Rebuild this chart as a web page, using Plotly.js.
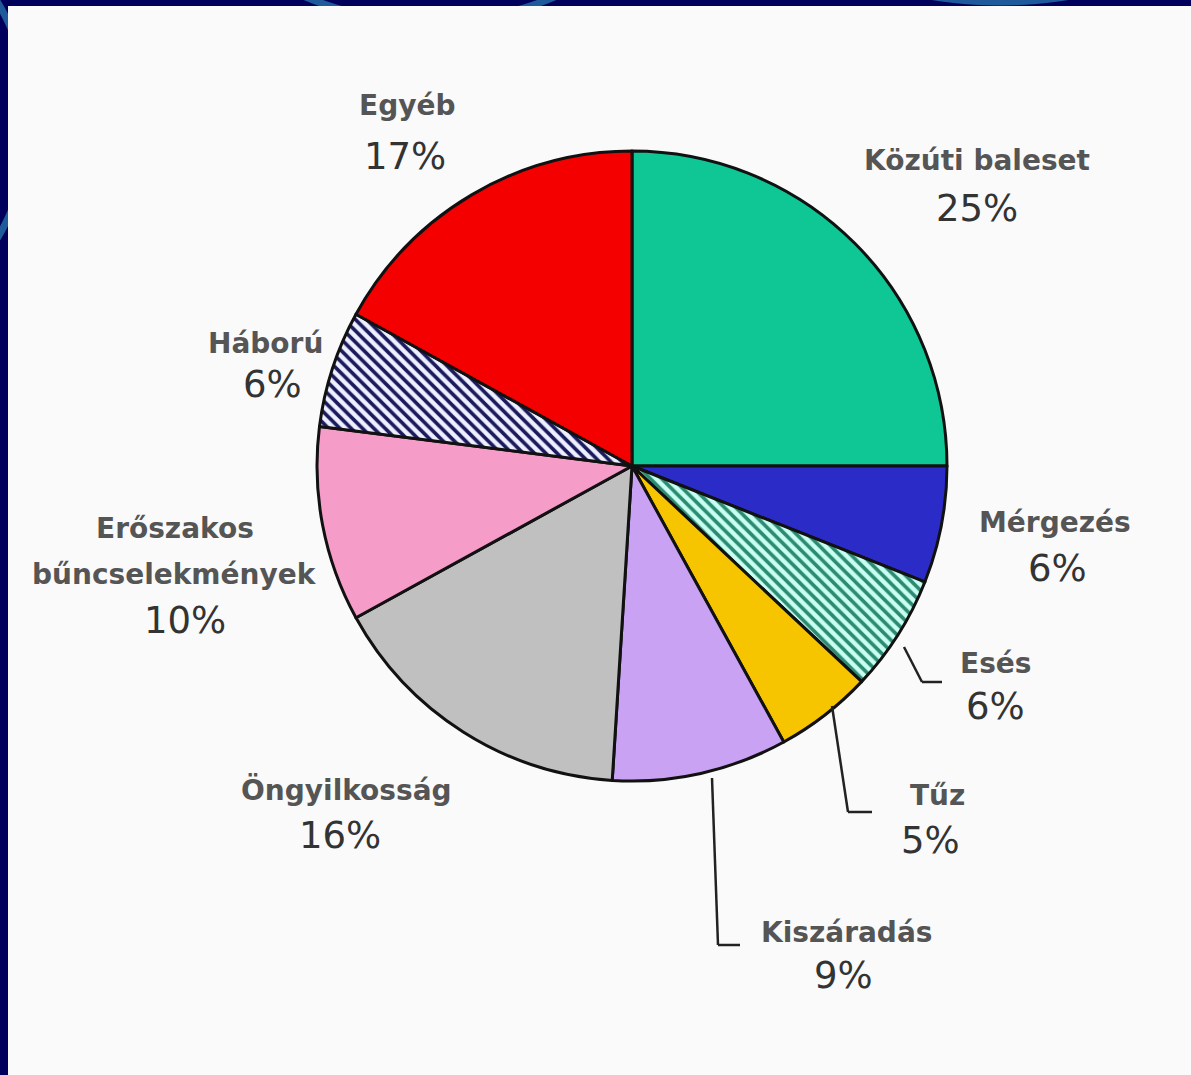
<!DOCTYPE html>
<html>
<head>
<meta charset="utf-8">
<script src="https://cdn.plot.ly/plotly-3.0.1.min.js"></script>
<style>
html,body{margin:0;padding:0;width:1191px;height:1075px;overflow:hidden;background:#00005c;}
#wrap{position:absolute;left:0;top:0;width:1191px;height:1075px;
 background:
  radial-gradient(circle at 430px -300px, transparent 318px, #1f5b9a 319px, #1f5b9a 325px, transparent 326px),
  radial-gradient(circle at 1000px -420px, transparent 418px, #1f5b9a 419px, #1f5b9a 425px, transparent 426px),
  radial-gradient(circle at -200px 120px, transparent 226px, #1f5b9a 227px, #1f5b9a 233px, transparent 234px),
  #00005c;}
#chart{position:absolute;left:8px;top:6px;width:1183px;height:1069px;}
</style>
</head>
<body>
<div id="wrap"></div>
<div id="chart"></div>
<script>
// ---- data ----
const categories = ["Közúti baleset","Mérgezés","Esés","Tűz","Kiszáradás","Öngyilkosság","Erőszakos bűncselekmények","Háború","Egyéb"];
const labelLines = [["Közúti baleset"],["Mérgezés"],["Esés"],["Tűz"],["Kiszáradás"],["Öngyilkosság"],["Erőszakos","bűncselekmények"],["Háború"],["Egyéb"]];
const values = [25, 6, 6, 5, 9, 16, 10, 6, 17];

// ---- styles ----
const fillColors = ["#0fc795","#2b2bc8","#c8fff2","#f6c500","#c9a2f4","#c0c0c0","#f59cc9","#eef0ff","#f40000"];
const patShapes  = ["","","\\","","","","","\\",""];
const patFg      = ["","","#2c8a70","","","","","#1a1a5c",""];

const W = 1183, H = 1069;
const px = x => x / W;
const py = y => 1 - y / H;
const cx = 624, cy = 460, R = 315;

const trace = {
  type: "pie",
  labels: categories,
  values: values,
  sort: false,
  direction: "clockwise",
  rotation: 0,
  textinfo: "none",
  hoverinfo: "label+percent",
  showlegend: false,
  domain: {x: [px(cx - R), px(cx + R)], y: [py(cy + R), py(cy - R)]},
  marker: {
    colors: fillColors,
    line: {color: "#111111", width: 3},
    pattern: {
      shape: patShapes,
      fgcolor: patFg,
      bgcolor: fillColors,
      size: 8,
      solidity: 0.45,
      fillmode: "replace"
    }
  }
};

// label layout (pixel positions inside the chart div): [x of name, y of first name line, x of percent, y of percent]
const labelPos = [
  [969,154,969,202],[1047,516,1049,562],[987,657,987,700],[929,789,922,834],
  [838,926,835,969],[338,784,332,829],[167,522,177,614],[257,337,264,379],[399,99,397,151]
];
const LINE_GAP = 47;
const fontName = {family: "'DejaVu Sans', sans-serif", size: 28, color: "#555555", weight: "bold"};
const fontPct  = {family: "'DejaVu Sans', sans-serif", size: 37, color: "#333333"};
const annotations = [];
categories.forEach((c, i) => {
  const p = labelPos[i];
  labelLines[i].forEach((ln, k) => {
    annotations.push({xref: "paper", yref: "paper", x: px(p[0]), y: py(p[1] + k * LINE_GAP),
      xanchor: "center", yanchor: "middle", text: ln, showarrow: false, font: fontName});
  });
  annotations.push({xref: "paper", yref: "paper", x: px(p[2]), y: py(p[3]),
    xanchor: "center", yanchor: "middle", text: values[i] + "%", showarrow: false, font: fontPct});
});

// leader lines (pixel coordinates inside the chart div)
const leaders = [
  [[896,641],[914,676],[934,676]],
  [[824,700],[840,806],[864,806]],
  [[704,772],[710,939],[732,939]]
];
const shapes = [];
leaders.forEach(pts => {
  for (let k = 0; k < pts.length - 1; k++) {
    shapes.push({type: "line", xref: "paper", yref: "paper",
      x0: px(pts[k][0]), y0: py(pts[k][1]), x1: px(pts[k+1][0]), y1: py(pts[k+1][1]),
      line: {color: "#222222", width: 2.5}});
  }
});

const layout = {
  width: W, height: H,
  margin: {l: 0, r: 0, t: 0, b: 0},
  paper_bgcolor: "#fafafa",
  plot_bgcolor: "#fafafa",
  annotations: annotations,
  shapes: shapes,
  showlegend: false
};

Plotly.newPlot("chart", [trace], layout, {displayModeBar: false, staticPlot: true});
</script>
</body>
</html>
